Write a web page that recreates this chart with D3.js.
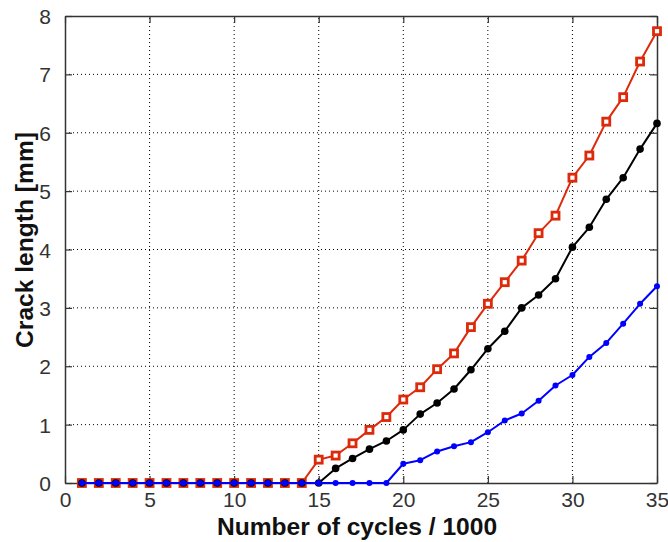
<!DOCTYPE html>
<html>
<head>
<meta charset="utf-8">
<script src="https://cdn.jsdelivr.net/npm/d3@7"></script>
<style>
  body { margin: 0; background: #fff; }
  svg { display: block; }
</style>
</head>
<body>
<div id="chart"></div>
<script>
var width = 668;
var height = 542;

// cycles (x 1000)
var cycles = [1,2,3,4,5,6,7,8,9,10,11,12,13,14,15,16,17,18,19,20,21,22,23,24,25,26,27,28,29,30,31,32,33,34,35];

// crack length [mm]
var redSeries = [0,0,0,0,0,0,0,0,0,0,0,0,0,0,0.40,0.47,0.68,0.91,1.13,1.43,1.64,1.95,2.22,2.67,3.07,3.44,3.81,4.28,4.58,5.23,5.61,6.19,6.61,7.22,7.74];
var blackSeries = [0,0,0,0,0,0,0,0,0,0,0,0,0,0,0,0.25,0.42,0.58,0.72,0.91,1.18,1.37,1.61,1.94,2.30,2.60,3.00,3.22,3.50,4.04,4.38,4.86,5.23,5.72,6.16];
var blueSeries = [0,0,0,0,0,0,0,0,0,0,0,0,0,0,0,0,0,0,0,0.33,0.39,0.54,0.63,0.70,0.87,1.07,1.19,1.41,1.67,1.85,2.16,2.40,2.73,3.07,3.37];

var xTicks = [0,5,10,15,20,25,30,35];
var yTicks = [0,1,2,3,4,5,6,7,8];

var margin = {left: 65, right: 11, top: 16, bottom: 59};
var plotW = width - margin.left - margin.right;
var plotH = height - margin.top - margin.bottom;

var svg = d3.select('#chart').append('svg')
    .attr('width', width)
    .attr('height', height);

var x = d3.scaleLinear().domain([0, 35]).range([margin.left, margin.left + plotW]);
var y = d3.scaleLinear().domain([0, 8]).range([margin.top + plotH, margin.top]);

var font = "'Liberation Sans', Arial, sans-serif";

// grid
svg.append('g').selectAll('line.vg')
  .data(xTicks.slice(1, -1))
  .enter().append('line')
    .attr('x1', function (d) { return x(d); })
    .attr('x2', function (d) { return x(d); })
    .attr('y1', y(0))
    .attr('y2', y(8))
    .attr('stroke', '#000')
    .attr('stroke-width', 1)
    .attr('stroke-dasharray', '1,3');

svg.append('g').selectAll('line.hg')
  .data(yTicks.slice(1, -1))
  .enter().append('line')
    .attr('x1', x(0))
    .attr('x2', x(35))
    .attr('y1', function (d) { return y(d); })
    .attr('y2', function (d) { return y(d); })
    .attr('stroke', '#000')
    .attr('stroke-width', 1)
    .attr('stroke-dasharray', '1,3');

// axes with inward ticks
var axisColor = '#333';
var bottomAxis = svg.append('g')
    .attr('transform', 'translate(0,' + y(0) + ')')
    .call(d3.axisBottom(x).tickValues(xTicks).tickSizeInner(-7).tickSizeOuter(0).tickPadding(8));
var topAxis = svg.append('g')
    .attr('transform', 'translate(0,' + y(8) + ')')
    .call(d3.axisTop(x).tickValues(xTicks).tickSizeInner(-7).tickSizeOuter(0).tickFormat(''));
var leftAxis = svg.append('g')
    .attr('transform', 'translate(' + x(0) + ',0)')
    .call(d3.axisLeft(y).tickValues(yTicks).tickSizeInner(-7).tickSizeOuter(0).tickPadding(14));
var rightAxis = svg.append('g')
    .attr('transform', 'translate(' + x(35) + ',0)')
    .call(d3.axisRight(y).tickValues(yTicks).tickSizeInner(-7).tickSizeOuter(0).tickFormat(''));

[bottomAxis, topAxis, leftAxis, rightAxis].forEach(function (g) {
  g.select('.domain').attr('stroke', axisColor).attr('stroke-width', 1.5);
  g.selectAll('.tick line').attr('stroke', axisColor).attr('stroke-width', 1.2);
  g.selectAll('.tick text')
    .style('font-family', font)
    .style('font-size', '21px')
    .attr('fill', '#333');
});
bottomAxis.selectAll('.tick text').attr('y', 8).attr('dy', '0.75em');
leftAxis.selectAll('.tick text').attr('dy', '0.36em');

// series lines
var line = d3.line()
    .x(function (d, i) { return x(cycles[i]); })
    .y(function (d) { return y(d); });

function drawSeries(values, color, marker) {
  svg.append('path')
    .datum(values)
    .attr('fill', 'none')
    .attr('stroke', color)
    .attr('stroke-width', 2)
    .attr('stroke-linejoin', 'round')
    .attr('d', line);

  var pts = svg.append('g').selectAll('.m').data(values).enter();
  if (marker == 'square') {
    pts.append('rect')
      .attr('x', function (d, i) { return x(cycles[i]) - 3.5; })
      .attr('y', function (d) { return y(d) - 3.5; })
      .attr('width', 7)
      .attr('height', 7)
      .attr('fill', '#fff')
      .attr('stroke', color)
      .attr('stroke-width', 2.8);
  } else {
    pts.append('circle')
      .attr('cx', function (d, i) { return x(cycles[i]); })
      .attr('cy', function (d) { return y(d); })
      .attr('r', marker == 'big' ? 3.8 : 3)
      .attr('fill', color);
  }
}

drawSeries(redSeries, '#dd2a0a', 'square');
drawSeries(blackSeries, '#000', 'big');
drawSeries(blueSeries, '#0000ff', 'small');

// axis labels
svg.append('text')
  .attr('x', 357)
  .attr('y', 535)
  .attr('text-anchor', 'middle')
  .style('font-family', font)
  .style('font-size', '24.6px')
  .style('font-weight', 'bold')
  .attr('fill', '#111')
  .text('Number of cycles / 1000');

svg.append('text')
  .attr('transform', 'translate(33,240) rotate(-90)')
  .attr('text-anchor', 'middle')
  .style('font-family', font)
  .style('font-size', '24.6px')
  .style('font-weight', 'bold')
  .attr('fill', '#111')
  .text('Crack length [mm]');
</script>
</body>
</html>
